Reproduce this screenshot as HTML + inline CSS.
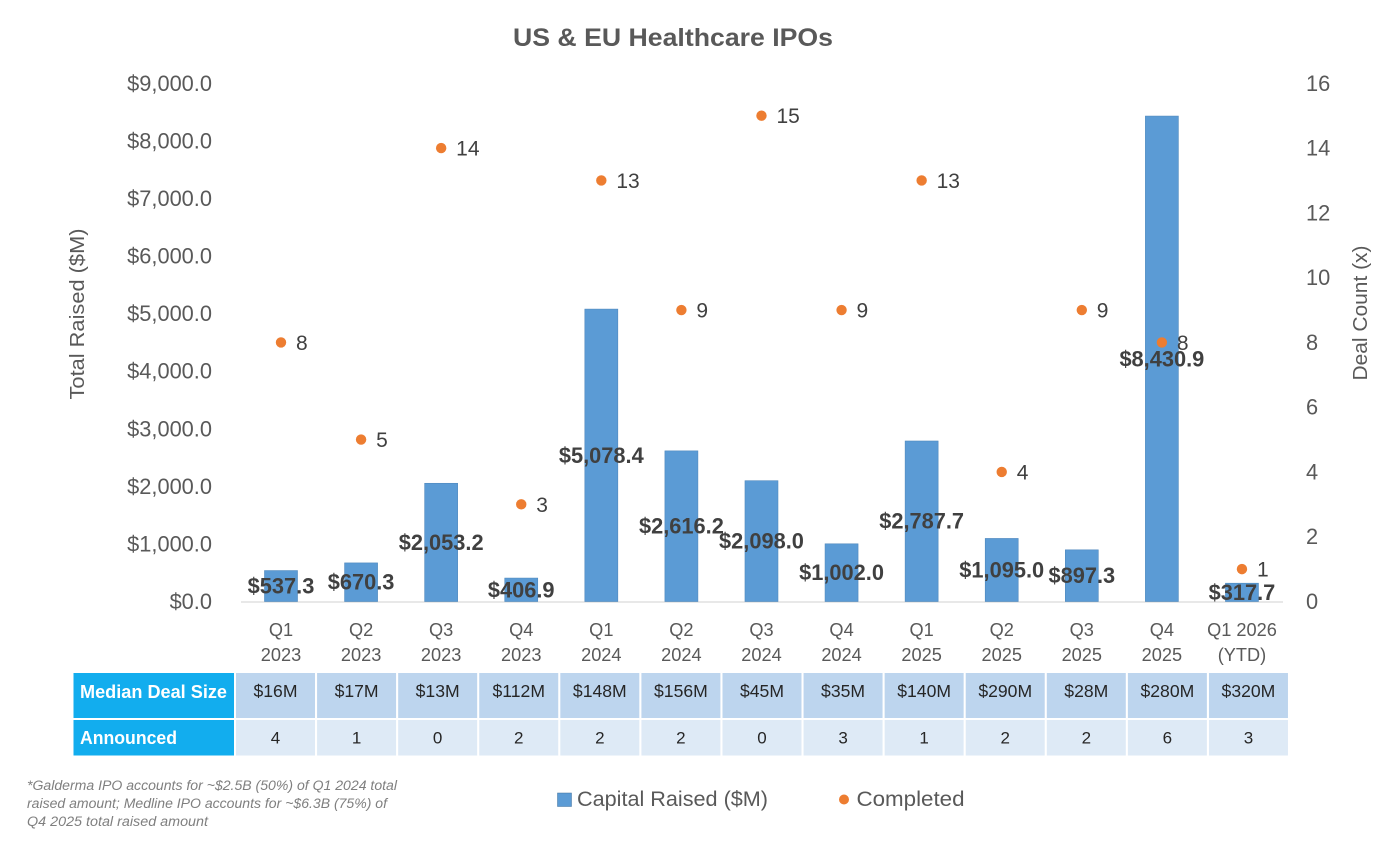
<!DOCTYPE html>
<html lang="en">
<head>
<meta charset="utf-8">
<title>US &amp; EU Healthcare IPOs</title>
<style>
html,body{margin:0;padding:0;background:#fff;width:1392px;height:848px;overflow:hidden}
svg{display:block}
text{font-family:"Liberation Sans",sans-serif}
</style>
</head>
<body>
<svg id="chart" xmlns="http://www.w3.org/2000/svg" width="1392" height="848" viewBox="0 0 1392 848">
  <rect x="0" y="0" width="1392" height="848" fill="#ffffff"/>
  <text x="673" y="46" text-anchor="middle" font-size="25" font-weight="700" fill="#595959" textLength="320" lengthAdjust="spacingAndGlyphs">US &amp; EU Healthcare IPOs</text>
  <text transform="translate(84,314) rotate(-90)" text-anchor="middle" font-size="20" fill="#595959" textLength="171" lengthAdjust="spacingAndGlyphs">Total Raised ($M)</text>
  <text transform="translate(1367,313) rotate(-90)" text-anchor="middle" font-size="20" fill="#595959" textLength="135" lengthAdjust="spacingAndGlyphs">Deal Count (x)</text>
  <line x1="241" y1="602" x2="1283" y2="602" stroke="#d9d9d9" stroke-width="1.2"/>
  <g id="left-ticks"></g>
  <g id="right-ticks"></g>
  <g id="x-labels"></g>
  <g id="bars"></g>
  <g id="points"></g>
  <g id="bar-labels"></g>
  <g id="table"></g>
  <g font-size="13.5" font-style="italic" fill="#7f7f7f">
    <text x="27" y="790" textLength="370" lengthAdjust="spacingAndGlyphs">*Galderma IPO accounts for ~$2.5B (50%) of Q1 2024 total</text>
    <text x="27" y="808" textLength="360" lengthAdjust="spacingAndGlyphs">raised amount; Medline IPO accounts for ~$6.3B (75%) of</text>
    <text x="27" y="826" textLength="181" lengthAdjust="spacingAndGlyphs">Q4 2025 total raised amount</text>
  </g>
  <g>
    <rect x="557.5" y="793" width="14" height="13.5" fill="#5b9bd5" stroke="#41719c" stroke-width="0.5"/>
    <text x="577" y="806" font-size="21" fill="#595959" textLength="191" lengthAdjust="spacingAndGlyphs">Capital Raised ($M)</text>
    <circle cx="844" cy="799.5" r="5" fill="#ed7d31"/>
    <text x="856.5" y="806" font-size="21" fill="#595959" textLength="108" lengthAdjust="spacingAndGlyphs">Completed</text>
  </g>
</svg>
<script>
const categories = [["Q1","2023"],["Q2","2023"],["Q3","2023"],["Q4","2023"],["Q1","2024"],["Q2","2024"],["Q3","2024"],["Q4","2024"],["Q1","2025"],["Q2","2025"],["Q3","2025"],["Q4","2025"],["Q1 2026","(YTD)"]];
const capitalRaised = [537.3,670.3,2053.2,406.9,5078.4,2616.2,2098.0,1002.0,2787.7,1095.0,897.3,8430.9,317.7];
const completed = [8,5,14,3,13,9,15,9,13,4,9,8,1];
const medianDealSize = ["$16M","$17M","$13M","$112M","$148M","$156M","$45M","$35M","$140M","$290M","$28M","$280M","$320M"];
const announced = [4,1,0,2,2,2,0,3,1,2,2,6,3];
const leftTicks = [0,1000,2000,3000,4000,5000,6000,7000,8000,9000];
const rightTicks = [0,2,4,6,8,10,12,14,16];

const NS = "http://www.w3.org/2000/svg";
const plotBottom = 601.5, plotTop = 83.3, firstX = 281, stepX = 80.08, barWidth = 33;
const leftMax = 9000, rightMax = 16;
function xPos(i){ return firstX + stepX * i; }
function yLeft(v){ return plotBottom - (v / leftMax) * (plotBottom - plotTop); }
function yRight(v){ return plotBottom - (v / rightMax) * (plotBottom - plotTop); }
function money(v){ return "$" + v.toLocaleString("en-US",{minimumFractionDigits:1,maximumFractionDigits:1}); }
function make(tag, parent, attrs, content){
  const e = document.createElementNS(NS, tag);
  for (const k in attrs) e.setAttribute(k, attrs[k]);
  if (content !== undefined) e.textContent = content;
  parent.appendChild(e);
  return e;
}
const gLeft = document.getElementById("left-ticks");
const gRight = document.getElementById("right-ticks");
const gX = document.getElementById("x-labels");
const gBars = document.getElementById("bars");
const gPoints = document.getElementById("points");
const gBarLabels = document.getElementById("bar-labels");
const gTable = document.getElementById("table");

leftTicks.forEach(function(t){
  const el = make("text", gLeft, {x:212, y:yLeft(t)+7.5, "text-anchor":"end", "font-size":21.8, fill:"#595959"}, money(t));
  
  
});
rightTicks.forEach(function(t){
  const el = make("text", gRight, {x:1306, y:yRight(t)+7.5, "font-size":21.8, fill:"#595959"}, String(t));
  
  
});
categories.forEach(function(c, i){
  const a = make("text", gX, {x:xPos(i), y:636, "text-anchor":"middle", "font-size":18.2, fill:"#595959"}, c[0]);
  
  
  const b = make("text", gX, {x:xPos(i), y:661, "text-anchor":"middle", "font-size":18.2, fill:"#595959"}, c[1]);
  
  
});
capitalRaised.forEach(function(v, i){
  const top = yLeft(v);
  const bar = make("rect", gBars, {x:xPos(i)-barWidth/2, y:top, width:barWidth, height:plotBottom-top, fill:"#5b9bd5", stroke:"#4f88bd", "stroke-width":0.6});
  
  
  const label = make("text", gBarLabels, {x:xPos(i), y:(top+plotBottom)/2+7.5, "text-anchor":"middle", "font-size":21.8, "font-weight":700, fill:"#404040"}, money(v));
  
  
});
completed.forEach(function(v, i){
  const cy = yRight(v);
  const dot = make("circle", gPoints, {cx:xPos(i), cy:cy, r:5.2, fill:"#ed7d31"});
  
  
  const label = make("text", gPoints, {x:xPos(i)+15, y:cy+7.5, "font-size":21, fill:"#404040"}, String(v));
  
  
});

const tableLeft = 236, cellStep = 81.08, cellWidth = 79;
const rowOneY = 673, rowOneH = 45, rowTwoY = 720, rowTwoH = 35.5;
const h1 = make("rect", gTable, {x:73.5, y:rowOneY, width:160.5, height:rowOneH, fill:"#12adee"});


const h1t = make("text", gTable, {x:80, y:698, "font-size":18, "font-weight":700, fill:"#ffffff", textLength:147, lengthAdjust:"spacingAndGlyphs"}, "Median Deal Size");


const h2 = make("rect", gTable, {x:73.5, y:rowTwoY, width:160.5, height:rowTwoH, fill:"#12adee"});


const h2t = make("text", gTable, {x:80, y:744, "font-size":18, "font-weight":700, fill:"#ffffff", textLength:97, lengthAdjust:"spacingAndGlyphs"}, "Announced");


medianDealSize.forEach(function(v, i){
  const x = tableLeft + cellStep * i;
  const c = make("rect", gTable, {x:x, y:rowOneY, width:cellWidth, height:rowOneH, fill:"#bdd5ee"});
  
  
  const t = make("text", gTable, {x:x+cellWidth/2, y:697, "text-anchor":"middle", "font-size":17.6, fill:"#262626"}, v);
  
  
});
announced.forEach(function(v, i){
  const x = tableLeft + cellStep * i;
  const c = make("rect", gTable, {x:x, y:rowTwoY, width:cellWidth, height:rowTwoH, fill:"#deeaf6"});
  
  
  const t = make("text", gTable, {x:x+cellWidth/2, y:743.5, "text-anchor":"middle", "font-size":17, fill:"#262626"}, String(v));
  
  
});
</script>
</body>
</html>
